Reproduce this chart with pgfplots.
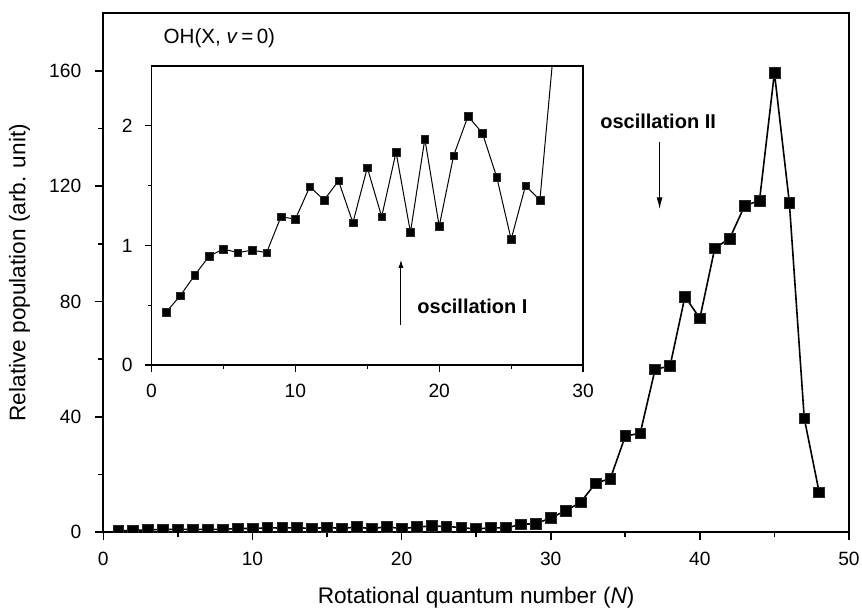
\documentclass[border=0pt]{standalone}
\usepackage{pgfplots}
\pgfplotsset{compat=1.18}
\usepackage{pgfplotstable}
\usetikzlibrary{arrows.meta}
\usepackage{fontspec}
\setmainfont{Liberation Sans}
\pgfplotstableread{
N pop
1 0.44
2 0.58
3 0.75
4 0.91
5 0.97
6 0.94
7 0.96
8 0.94
9 1.24
10 1.22
11 1.49
12 1.38
13 1.54
14 1.19
15 1.65
16 1.24
17 1.78
18 1.11
19 1.89
20 1.16
21 1.75
22 2.08
23 1.94
24 1.57
25 1.05
26 1.50
27 1.38
28 2.7
29 2.9
30 4.9
31 7.4
32 10.3
33 16.9
34 18.6
35 33.3
36 34.3
37 56.5
38 57.6
39 81.7
40 74.2
41 98.5
42 101.9
43 113.2
44 115.1
45 159.4
46 114.4
47 39.5
48 13.8
}\maindata
\pgfplotstableread{
N pop
1 0.44
2 0.58
3 0.75
4 0.91
5 0.97
6 0.94
7 0.96
8 0.94
9 1.24
10 1.22
11 1.49
12 1.38
13 1.54
14 1.19
15 1.65
16 1.24
17 1.78
18 1.11
19 1.89
20 1.16
21 1.75
22 2.08
23 1.94
24 1.57
25 1.05
26 1.50
27 1.38
28 2.7
}\insetdata
\begin{document}
\begin{tikzpicture}
\path[use as bounding box] (-51.65pt,-38.5pt) rectangle (379.3pt,266pt);
\begin{axis}[
  at={(0pt,0pt)}, anchor=south west,
  scale only axis, width=372.8pt, height=259.3pt,
  xmin=0, xmax=50, ymin=0, ymax=180,
  xtick={0,10,...,50}, minor xtick={5,15,...,45},
  ytick={0,40,...,160}, minor ytick={20,60,100,140},
  tick align=outside, tickpos=left,
  major tick length=4pt, minor tick length=2.5pt,
  axis line style={line width=1pt},
  every tick/.style={black, line width=0.8pt},
  /pgf/number format/assume math mode=true,
  tick label style={font=\fontsize{9.6}{11}\selectfont},
  xticklabel style={yshift=-2.5pt},
  yticklabel style={xshift=-3.5pt},
  label style={font=\fontsize{11.3}{13}\selectfont},
  xlabel={Rotational quantum number (\textit{N})},
  ylabel={Relative population (arb. unit)},
  xlabel style={at={(axis description cs:0.5,-0.127)}, anchor=center},
  ylabel style={at={(axis description cs:-0.1124,0.5)}, anchor=center},
  clip marker paths=true,
]
\addplot[black, line width=0.8pt, mark=square*, mark size=2.7pt, mark options={fill=black, draw=black!85, line width=0.3pt}] table[x=N, y=pop] {\maindata};
\node[font=\bfseries\fontsize{10}{12}\selectfont] at (axis cs:37.2,142.5) {oscillation II};
\draw[line width=0.6pt, -{Latex[length=6pt,width=3pt]}] (axis cs:37.3,135.5) -- (axis cs:37.3,112);
\node[anchor=west, font=\fontsize{10.3}{12}\selectfont, inner sep=0pt] at (axis cs:4.02,171.5) {OH(X, \textit{v}\,=\,0)};
\end{axis}
\begin{axis}[
  at={(24.1pt,83.5pt)}, anchor=south west,
  scale only axis, width=215.75pt, height=149.5pt,
  xmin=0, xmax=30, ymin=0, ymax=2.5,
  xtick={0,10,20,30}, minor xtick={5,15,25},
  ytick={0,1,2}, minor ytick={0.5,1.5},
  tick align=outside, tickpos=left,
  major tick length=3.5pt, minor tick length=2pt,
  axis line style={line width=0.6pt},
  every tick/.style={black, line width=0.6pt},
  /pgf/number format/assume math mode=true,
  tick label style={font=\fontsize{9.6}{11}\selectfont},
  xticklabel style={yshift=-2.5pt},
  yticklabel style={xshift=-2.5pt},
]
\addplot[black, line width=0.5pt, mark=square*, mark size=1.9pt, mark options={fill=black, draw=black!85, line width=0.2pt}] table[x=N, y=pop] {\insetdata};
\draw[line width=0.5pt, -{Latex[length=4pt,width=2.5pt]}] (axis cs:17.34,0.335) -- (axis cs:17.34,0.88);
\node[anchor=west, font=\bfseries\fontsize{10}{12}\selectfont, inner sep=0pt] at (axis cs:18.46,0.49) {oscillation I};
\end{axis}
\end{tikzpicture}
\end{document}
